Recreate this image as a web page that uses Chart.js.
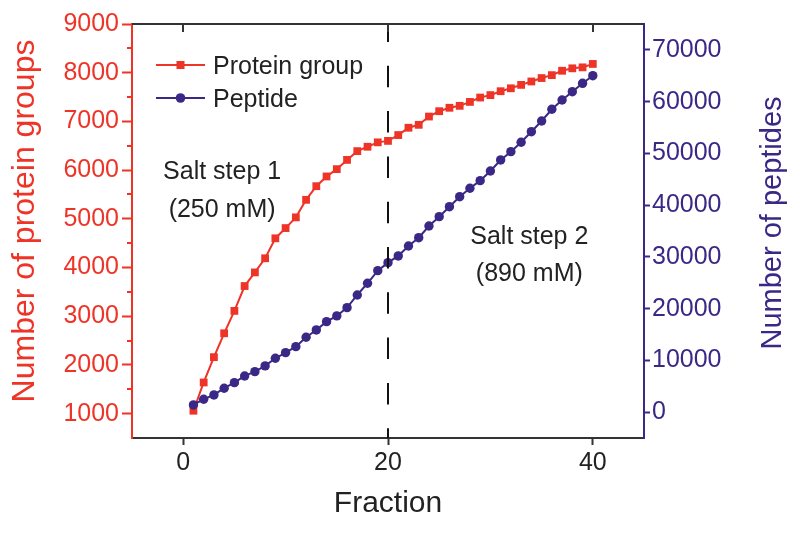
<!DOCTYPE html>
<html>
<head>
<meta charset="utf-8">
<script src="https://cdn.jsdelivr.net/npm/chart.js@4.4.1/dist/chart.umd.min.js"></script>
<style>
  html, body { margin: 0; padding: 0; background: #fff; }
  canvas { display: block; }
</style>
</head>
<body>
<canvas id="chart" width="800" height="534"></canvas>
<script>
// values
const fractions = [1, 2, 3, 4, 5, 6, 7, 8, 9, 10, 11, 12, 13, 14, 15, 16, 17, 18, 19, 20,
  21, 22, 23, 24, 25, 26, 27, 28, 29, 30, 31, 32, 33, 34, 35, 36, 37, 38, 39, 40];
const proteinGroups = [1060, 1640, 2160, 2650, 3110, 3620, 3900, 4190, 4600, 4810,
  5030, 5390, 5670, 5870, 6020, 6210, 6390, 6480, 6570, 6600,
  6720, 6870, 6930, 7100, 7210, 7280, 7320, 7400, 7490, 7540,
  7620, 7680, 7750, 7820, 7890, 7950, 8040, 8090, 8110, 8180];
const peptides = [1390, 2490, 3320, 4620, 5700, 6990, 7820, 8930, 10410, 11500,
  12650, 14470, 15880, 17480, 18590, 20190, 22640, 24900, 27340, 28880,
  30180, 32110, 33710, 35970, 37770, 39700, 41630, 43260, 44730, 46600,
  48730, 50330, 52140, 54190, 56260, 58520, 60320, 61920, 63540, 65010];
const saltBoundary = 20;
const seriesNames = ['Protein group', 'Peptide'];
const saltLabels = [['Salt step 1', '(250 mM)'], ['Salt step 2', '(890 mM)']];
const xTicks = [0, 20, 40];
const proteinTicks = [1000, 2000, 3000, 4000, 5000, 6000, 7000, 8000, 9000];
const proteinMinorTicks = [1500, 2500, 3500, 4500, 5500, 6500, 7500, 8500];
const peptideTicks = [0, 10000, 20000, 30000, 40000, 50000, 60000, 70000];

const RED = '#ee3327';
const PURPLE = '#3b2886';
const INK = '#222';
const FONT = '"Liberation Sans", Arial, sans-serif';

const toPoints = (ys) => fractions.map((f, i) => ({ x: f, y: ys[i] }));
const fixedTicks = (values) => (s) => { s.ticks = values.map(v => ({ value: v })); };
const plain = (v) => String(v);

// extra drawing: titles of y axes, legend, salt labels, top frame, minor ticks
const extras = {
  id: 'extras',
  afterDraw(chart) {
    const { ctx, chartArea: a } = chart;
    const { x, y } = chart.scales;
    ctx.save();

    // top frame with inner ticks
    ctx.strokeStyle = '#333';
    ctx.lineWidth = 2;
    ctx.beginPath();
    ctx.moveTo(a.left, a.top);
    ctx.lineTo(a.right, a.top);
    xTicks.forEach(v => {
      const px = Math.round(x.getPixelForValue(v));
      ctx.moveTo(px, a.top);
      ctx.lineTo(px, a.top + 8);
    });
    ctx.stroke();

    // minor ticks on the left axis
    ctx.strokeStyle = RED;
    ctx.beginPath();
    proteinMinorTicks.forEach(v => {
      const py = Math.round(y.getPixelForValue(v));
      ctx.moveTo(a.left - 5, py);
      ctx.lineTo(a.left, py);
    });
    ctx.stroke();

    // y axis titles (both read bottom to top)
    ctx.textAlign = 'center';
    ctx.textBaseline = 'alphabetic';
    ctx.fillStyle = RED;
    ctx.font = '32px ' + FONT;
    ctx.save();
    ctx.translate(34, 221);
    ctx.rotate(-Math.PI / 2);
    ctx.fillText('Number of protein groups', 0, 0);
    ctx.restore();
    ctx.fillStyle = PURPLE;
    ctx.font = '29px ' + FONT;
    ctx.save();
    ctx.translate(781, 223);
    ctx.rotate(-Math.PI / 2);
    ctx.fillText('Number of peptides', 0, 0);
    ctx.restore();

    // legend
    ctx.font = '25px ' + FONT;
    ctx.textAlign = 'left';
    chart.data.datasets.slice(0, 2).forEach((ds, i) => {
      const ly = a.top + 41 + i * 33;
      ctx.strokeStyle = ds.borderColor;
      ctx.lineWidth = 2;
      ctx.beginPath();
      ctx.moveTo(a.left + 24, ly);
      ctx.lineTo(a.left + 73, ly);
      ctx.stroke();
      ctx.fillStyle = ds.backgroundColor;
      if (ds.pointStyle === 'rect') {
        ctx.fillRect(a.left + 48.5 - 4, ly - 4, 8, 8);
      } else {
        ctx.beginPath();
        ctx.arc(a.left + 48.5, ly, 4.8, 0, Math.PI * 2);
        ctx.fill();
      }
      ctx.fillStyle = INK;
      ctx.fillText(ds.label, a.left + 81, ly + 8.5);
    });

    // salt step labels, placed in data coordinates
    ctx.textAlign = 'center';
    ctx.fillStyle = INK;
    const spots = [[3.8, 5812, 5032], [33.8, 4483, 3732]];
    saltLabels.forEach((lines, i) => {
      const [fx, y1, y2] = spots[i];
      const px = x.getPixelForValue(fx);
      ctx.fillText(lines[0], px, y.getPixelForValue(y1));
      ctx.fillText(lines[1], px, y.getPixelForValue(y2));
    });

    ctx.restore();
  }
};

new Chart(document.getElementById('chart'), {
  type: 'line',
  data: {
    datasets: [
      {
        label: seriesNames[0],
        data: toPoints(proteinGroups),
        yAxisID: 'y',
        borderColor: RED,
        backgroundColor: RED,
        borderWidth: 2,
        pointStyle: 'rect',
        pointRadius: 5.5,
        pointBorderWidth: 0,
        order: 2
      },
      {
        label: seriesNames[1],
        data: toPoints(peptides),
        yAxisID: 'y2',
        borderColor: PURPLE,
        backgroundColor: PURPLE,
        borderWidth: 2,
        pointStyle: 'circle',
        pointRadius: 4.7,
        pointBorderWidth: 0,
        order: 1
      },
      {
        label: 'boundary',
        data: [{ x: saltBoundary, y: 9000 }, { x: saltBoundary, y: 500 }],
        yAxisID: 'y',
        borderColor: '#111',
        borderWidth: 2,
        borderDash: [21.5, 23.8],
        borderDashOffset: 3.5,
        pointRadius: 0,
        order: 0
      }
    ]
  },
  options: {
    responsive: false,
    animation: false,
    layout: { padding: { top: 24, left: 0, right: 0, bottom: 0 } },
    plugins: {
      legend: { display: false },
      tooltip: { enabled: false }
    },
    scales: {
      x: {
        type: 'linear',
        position: 'bottom',
        min: -5,
        max: 45,
        afterBuildTicks: fixedTicks(xTicks),
        afterFit: (s) => { s.height = 96; },
        ticks: { callback: plain, color: INK, font: { family: FONT, size: 25 }, padding: 3 },
        grid: { drawOnChartArea: false, tickLength: 7, tickColor: '#333', tickWidth: 2 },
        border: { color: '#333', width: 2 },
        title: { display: true, text: 'Fraction', color: INK, font: { family: FONT, size: 30 }, padding: { top: 0, bottom: 12 } }
      },
      y: {
        type: 'linear',
        position: 'left',
        min: 500,
        max: 9000,
        afterBuildTicks: fixedTicks(proteinTicks),
        afterFit: (s) => { s.width = 132; },
        ticks: { callback: plain, color: RED, font: { family: FONT, size: 25 }, padding: 3 },
        grid: { drawOnChartArea: false, tickLength: 10, tickColor: RED, tickWidth: 2 },
        border: { color: RED, width: 2 }
      },
      y2: {
        type: 'linear',
        position: 'right',
        min: -5000,
        max: 75000,
        afterBuildTicks: fixedTicks(peptideTicks),
        afterFit: (s) => { s.width = 156; },
        ticks: { callback: plain, color: PURPLE, font: { family: FONT, size: 25 }, padding: 2 },
        grid: { drawOnChartArea: false, tickLength: 6, tickColor: PURPLE, tickWidth: 2 },
        border: { color: PURPLE, width: 2 }
      }
    }
  },
  plugins: [extras]
});
</script>
</body>
</html>
